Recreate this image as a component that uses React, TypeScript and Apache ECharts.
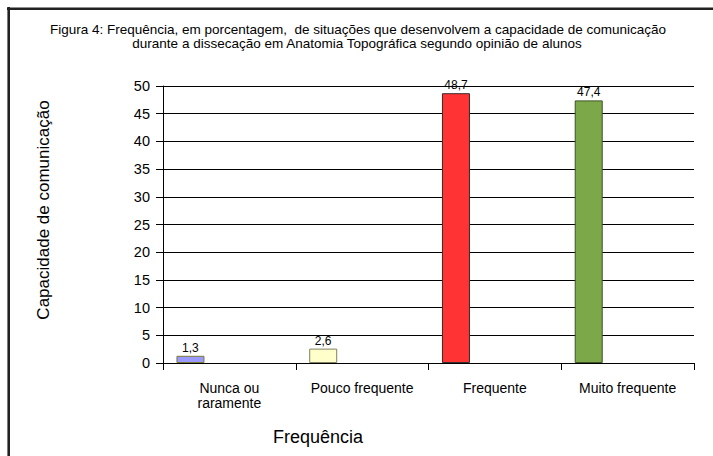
import React, { useEffect, useRef } from "react";
import * as echarts from "echarts";

const titleLines = [
  "Figura 4: Frequência, em porcentagem,  de situações que desenvolvem a capacidade de comunicação",
  "durante a dissecação em Anatomia Topográfica segundo opinião de alunos",
];
const categories = ["Nunca ou\nraramente", "Pouco frequente", "Frequente", "Muito frequente"];
const values = [1.3, 2.6, 48.7, 47.4];
const yTicks = { min: 0, max: 50, interval: 5 };
const yAxisTitle = "Capacidade de comunicação";
const xAxisTitle = "Frequência";

const fillColors = ["#9999FF", "#FFFFCC", "#FF3333", "#7CA84A"];
const edgeColors = ["#7a7a30", "#808060", "#3a2a2a", "#3B5323"];

const FONT = "'Liberation Sans', Arial, sans-serif";

export default function App() {
  const ref = useRef<HTMLDivElement>(null);
  useEffect(() => {
    if (!ref.current) return;
    const chart = echarts.init(ref.current, undefined, { renderer: "svg" });
    chart.setOption({
      animation: false,
      backgroundColor: "#fff",
      textStyle: { fontFamily: FONT },
      grid: { left: 163, right: 19, top: 86, bottom: 93, containLabel: false },
      xAxis: {
        type: "category",
        data: categories,
        axisLine: { show: true, lineStyle: { color: "#000", width: 1 } },
        axisTick: { show: true, length: 7, lineStyle: { color: "#000" } },
        axisLabel: {
          color: "#000",
          fontSize: 14,
          lineHeight: 15,
          margin: 17,
          interval: 0,
          fontFamily: FONT,
        },
        splitLine: { show: false },
      },
      yAxis: {
        type: "value",
        min: yTicks.min,
        max: yTicks.max,
        interval: yTicks.interval,
        axisLine: { show: true, lineStyle: { color: "#000", width: 1 } },
        axisTick: { show: true, length: 7, lineStyle: { color: "#000" } },
        axisLabel: { color: "#000", fontSize: 14.5, margin: 13, fontFamily: FONT },
        splitLine: { show: true, lineStyle: { color: "#000", width: 1 } },
      },
      series: [
        {
          type: "bar",
          barWidth: 28,
          barGap: "178%",
          data: values.map((v, i) => ({
            value: v,
            itemStyle: { color: fillColors[i], borderColor: edgeColors[i], borderWidth: 1 },
          })),
          label: {
            show: true,
            position: "top",
            distance: 2,
            color: "#000",
            fontSize: 12,
            fontFamily: FONT,
            formatter: (p: any) => String(p.value).replace(".", ","),
          },
        },
        {
          type: "bar",
          barWidth: 28,
          data: categories.map(() => "-"),
        },
      ],
      graphic: [
        {
          type: "line",
          shape: { x1: 7, y1: 8.7, x2: 713, y2: 8.7 },
          style: { stroke: "#222", lineWidth: 2.6 },
        },
        {
          type: "line",
          shape: { x1: 8.7, y1: 7, x2: 8.7, y2: 456 },
          style: { stroke: "#222", lineWidth: 2.6 },
        },
        {
          type: "text",
          x: 358,
          y: 29,
          style: {
            text: titleLines[0],
            fontSize: 13.5,
            fontFamily: FONT,
            fill: "#000",
            align: "center",
            verticalAlign: "middle",
          },
        },
        {
          type: "text",
          x: 357,
          y: 43,
          style: {
            text: titleLines[1],
            fontSize: 13.5,
            fontFamily: FONT,
            fill: "#000",
            align: "center",
            verticalAlign: "middle",
          },
        },
        {
          type: "text",
          x: 43,
          y: 210,
          rotation: Math.PI / 2,
          style: {
            text: yAxisTitle,
            fontSize: 17,
            fontFamily: FONT,
            fill: "#000",
            align: "center",
            verticalAlign: "middle",
          },
        },
        {
          type: "text",
          x: 318,
          y: 437,
          style: {
            text: xAxisTitle,
            fontSize: 18,
            fontFamily: FONT,
            fill: "#000",
            align: "center",
            verticalAlign: "middle",
          },
        },
      ],
    });
    return () => chart.dispose();
  }, []);
  return (
    <div
      ref={ref}
      style={{ position: "fixed", left: 0, top: 0, width: 713, height: 456 }}
    />
  );
}
